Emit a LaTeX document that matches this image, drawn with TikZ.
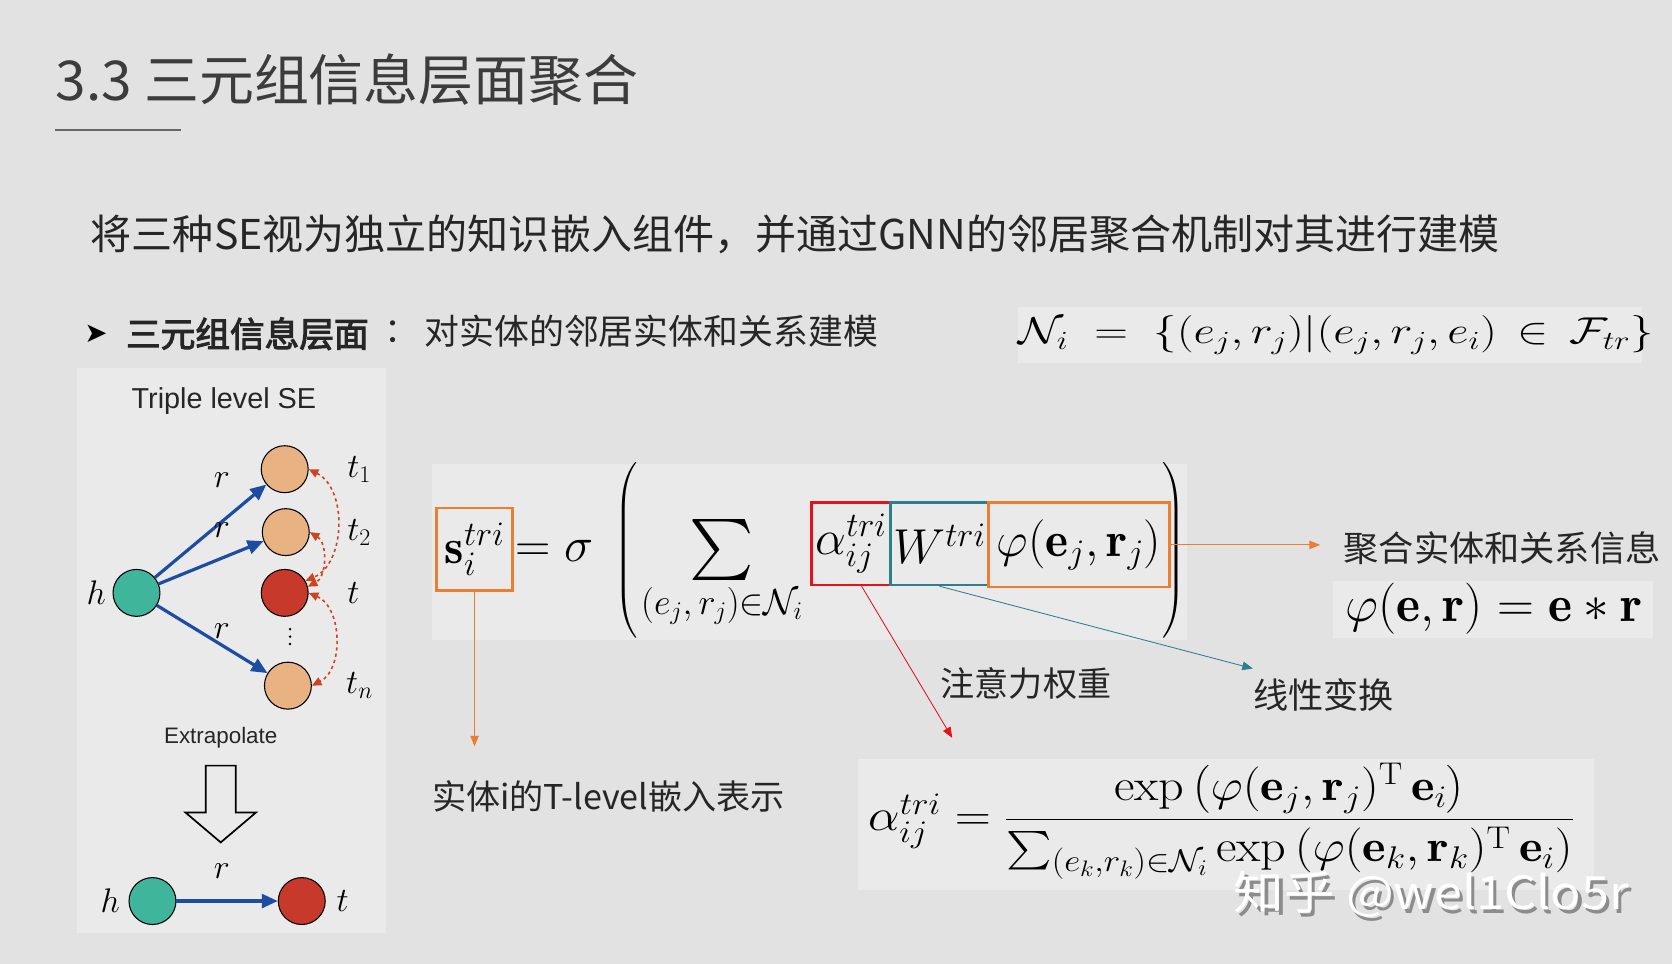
\documentclass[tikz,border=0pt]{standalone}
\usepackage{fix-cm}
\usepackage{exscale}
\usepackage{fontspec}
\usepackage{graphicx}
\newfontfamily\cjk{Noto Sans CJK SC}
\newfontfamily\cjkheavy[FakeBold=3]{Noto Sans CJK SC}
\newfontfamily\arial{Liberation Sans}
\newfontfamily\symb{DejaVu Sans}
\usetikzlibrary{arrows.meta,positioning}

\definecolor{bg}{HTML}{E2E2E2}
\definecolor{panel}{HTML}{EAEAEA}
\definecolor{ink}{HTML}{262626}
\definecolor{boxorange}{HTML}{ED7D31}
\definecolor{boxred}{HTML}{E3131B}
\definecolor{boxteal}{HTML}{2E7F8E}
\definecolor{relblue}{HTML}{1C4DA1}
\definecolor{linkred}{HTML}{CC4422}
\definecolor{headteal}{HTML}{3FB59B}
\definecolor{tailpeach}{HTML}{E9B283}
\definecolor{tailred}{HTML}{C7392A}

\newcommand\fsz[1]{\fontsize{#1}{#1}\selectfont}
\newcommand\bigsum{\mathop{\vcenter{\hbox{\scalebox{1.45}{$\textstyle\sum$}}}}}

\begin{document}
\begin{tikzpicture}[x=1pt, y=-1pt,
    entity/.style={draw=black, line width=1pt, circle, inner sep=0, minimum size=44pt},
    rel/.style={-{Triangle[length=15pt,width=13pt]}, relblue, line width=3pt},
    link/.style={{Triangle[length=9pt,width=8pt]}-{Triangle[length=9pt,width=8pt]},
        linkred, dashed, line width=1.5pt},
    termbox/.style={draw, line width=2.5pt, inner sep=0, minimum height=77pt, font=\fsz{46}},
    note/.style={-{Triangle[length=10pt,width=8pt]}, line width=0.8pt},
    cn/.style={font=\cjk\fsz{32}, text=ink, inner sep=0, anchor=west},
    lbl/.style={font=\fsz{32}, inner sep=0}]

    % Page
    \fill[bg] (0,0) rectangle (1568,904);
    \useasboundingbox (0,0) rectangle (1568,904);
    \fill[panel] (72,345) rectangle (362,875);
    \fill[panel] (405,435) rectangle (1113,600);
    \fill[panel] (955,288) rectangle (1540,340);
    \fill[panel] (1250,545) rectangle (1550,598);
    \fill[panel] (805,712) rectangle (1495,835);

    % Heading
    \node[font=\cjk\fsz{51.5}, text=ink!90, anchor=west, inner sep=0] (title) at (52,75)
        {3.3 三元组信息层面聚合};
    \draw[line width=2.5pt, black!60] (52,122) -- (170,122);
    \node[cn, font=\cjk\fsz{38.5}] (intro) at (85,220)
        {将三种SE视为独立的知识嵌入组件，并通过GNN的邻居聚合机制对其进行建模};
    \node[font=\symb\fsz{26}, inner sep=0] (bullet) at (90,313) {➤};
    \node[cn, font=\cjkheavy\fsz{32.5}] (level) at (118,313) {三元组信息层面};
    \node[cn] (colon) at (360,311) {：};
    \node[cn, font=\cjk\fsz{32.7}] (levelText) at (398,311) {对实体的邻居实体和关系建模};
    \node[font=\fsz{35}, inner sep=0, anchor=west] (nbr) at (955,314)
        {\scalebox{1.25}[1]{$\mathcal{N}_i \;=\; \{(e_j,r_j)|(e_j,r_j,e_i)\,\in\,\mathcal{F}_{tr}\}$}};

    % Triple level SE
    \node[font=\arial\fsz{27}, text=ink, inner sep=0] (panelTitle) at (210,376) {Triple level SE};
    \node[entity, fill=headteal, label={[lbl, label distance=6pt]left:$h$}] (h) at (128,556) {};
    \node[entity, fill=tailpeach, label={[lbl, label distance=36pt]right:$t_1$}] (t1) at (267,440) {};
    \node[entity, fill=tailpeach, label={[lbl, label distance=35pt]right:$t_2$}] (t2) at (268,499) {};
    \node[entity, fill=tailred, label={[lbl, label distance=36pt]right:$t$}] (t) at (267,556) {};
    \node[entity, fill=tailpeach, label={[lbl, label distance=32pt]right:$t_n$}] (tn) at (270,643) {};
    \foreach \y in {590, 597, 604}
        \fill (272,\y) circle (1.3pt);

    \foreach \x in {t1, t2, tn}
        \draw[rel] (h) -- (\x);
    \node[lbl] (r1) at (208,450) {$r$};
    \node[lbl] (r2) at (208,497) {$r$};
    \node[lbl] (r3) at (208,592) {$r$};

    \draw[link] (t1.east) to[bend left=65] (t.30);
    \draw[link] (t2.east) to[bend left=60] (t.15);
    \draw[link] (t.east) to[bend left=65] (tn.east);

    \node[font=\arial\fsz{21}, text=ink, inner sep=0] (extra) at (207,692) {Extrapolate};
    \draw[line width=1.6pt, fill=panel] (193,718) -- (221,718) -- (221,762) -- (240,762)
        -- (207,790) -- (174,762) -- (193,762) -- cycle;

    \node[entity, fill=headteal, label={[lbl, label distance=8pt]left:$h$}] (h0) at (143,845) {};
    \node[entity, fill=tailred, label={[lbl, label distance=10pt]right:$t$}] (t0) at (283,845) {};
    \draw[rel] (h0) -- (t0);
    \node[lbl] (r0) at (208,817) {$r$};

    % Aggregation formula
    \node[termbox, draw=boxorange, minimum width=71pt] (s) at (445,515) {$\mathbf{s}_i^{tri}$};
    \node[font=\fsz{46}, inner sep=0] (eq) at (520,517) {$=\sigma$};
    \node[font=\fsz{46}, inner sep=0] (lp) at (588,516) {$\left(\rule[-70pt]{0pt}{140pt}\right.$};
    \node[font=\fsz{42}, inner sep=0] (sum) at (677,516) {\scalebox{2.3}{$\textstyle\sum$}};
    \node[font=\fsz{34}, inner sep=0] (sumSub) at (677,568) {$(e_j,r_j){\in}\mathcal{N}_i$};
    \node[termbox, draw=boxred, minimum width=74pt] (alpha) at (798,510) {$\alpha_{ij}^{tri}$};
    \node[termbox, draw=boxteal, minimum width=92pt] (W) at (881,510) {$W^{tri}$};
    \node[termbox, draw=boxorange, minimum width=170pt, minimum height=79pt] (phi) at (1012,511)
        {$\varphi(\mathbf{e}_j,\mathbf{r}_j)$};
    \node[font=\fsz{46}, inner sep=0] (rp) at (1100,516) {$\left.\rule[-70pt]{0pt}{140pt}\right)$};

    % Notes
    \coordinate (sEnd) at (445,700);
    \coordinate (alphaEnd) at (893,692);
    \coordinate (WEnd) at (1175,627);
    \coordinate (phiEnd) at (1238,511);
    \draw[note, boxorange] (s.south) -- (sEnd);
    \draw[note, boxred] ([xshift=10pt]alpha.south) -- (alphaEnd);
    \draw[note, boxteal] (W.south) -- (WEnd);
    \draw[note, boxorange] (phi.east) -- (phiEnd);

    \node[cn] (sNote) at (405,747) {实体i的T-level嵌入表示};
    \node[cn] (alphaNote) at (882,641) {注意力权重};
    \node[cn, font=\cjk\fsz{33}] (WNote) at (1175,652) {线性变换};
    \node[cn, font=\cjk\fsz{33}] (phiNote) at (1260,514) {聚合实体和关系信息};
    \node[font=\fsz{48}, inner sep=0] (phiDef) at (1401,571)
        {$\varphi(\mathbf{e},\mathbf{r}) = \mathbf{e}*\mathbf{r}$};

    % Attention weight
    \node[font=\fsz{42}, inner sep=0, anchor=west] (attn) at (814,770)
        {\scalebox{1.12}[1]{$\alpha_{ij}^{tri} = \displaystyle\frac{\exp\left(\varphi(\mathbf{e}_j,\mathbf{r}_j)^{\mathrm{T}}\,\mathbf{e}_i\right)}
        {\bigsum_{(e_k,r_k)\in\mathcal{N}_i}\exp\left(\varphi(\mathbf{e}_k,\mathbf{r}_k)^{\mathrm{T}}\,\mathbf{e}_i\right)}$}};

    % Watermark
    \node[font=\cjk\fsz{43}, text=black!45, anchor=west, inner sep=0] (wmShadow) at (1160,842)
        {\scalebox{1.1}[1]{知乎 @wel1Clo5r}};
    \node[font=\cjk\fsz{43}, text=white, anchor=west, inner sep=0] (wm) at (1157,839)
        {\scalebox{1.1}[1]{知乎 @wel1Clo5r}};

\end{tikzpicture}
\end{document}
